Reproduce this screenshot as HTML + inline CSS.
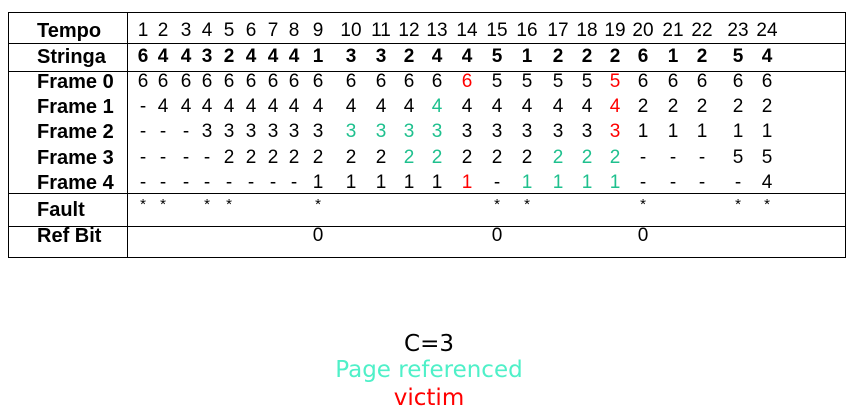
<!DOCTYPE html>
<html><head><meta charset="utf-8"><style>
body{margin:0;width:858px;height:420px;background:#fff;position:relative;overflow:hidden;font-family:"Liberation Sans",Arial,sans-serif}
.t{position:absolute;font-size:19px;line-height:22px;transform:translate(-50%,-50%);white-space:nowrap;color:#000}
.l{position:absolute;left:37px;font-size:20px;font-weight:bold;line-height:22px;transform:translateY(-50%);white-space:nowrap}
.h{position:absolute;left:8px;width:838px;height:1px;background:#000}
.g{color:#1fc08e}.r{color:#f00}
.b{position:absolute;left:0;width:858px;text-align:center;font-family:"DejaVu Sans",sans-serif;font-size:23px;line-height:27px}
</style></head><body>
<div style="position:absolute;left:8px;top:12px;width:836px;height:244px;border:1px solid #000"></div>
<div style="position:absolute;left:127px;top:12px;width:1px;height:245px;background:#000"></div>
<div class="h" style="top:43px"></div>
<div class="h" style="top:71px"></div>
<div class="h" style="top:193px"></div>
<div class="h" style="top:226px"></div>
<div id="tbl"></div>
<div class="b" style="top:331px">C=3</div>
<div class="b" style="top:357px;color:#4ff0c8">Page referenced</div>
<div class="b" style="top:385px;color:#f00">victim</div>
<script>
const colX=[143,163,186,207,229,251,273,294,318,351,381,409,437,467,497,527,558,587,615,643,673,702,738,767];
const stringa=['6','4','4','3','2','4','4','4','1','3','3','2','4','4','5','1','2','2','2','6','1','2','5','4'];
const frame0=['6','6','6','6','6','6','6','6','6','6','6','6','6','6r','5','5','5','5','5r','6','6','6','6','6'];
const frame1=['-','4','4','4','4','4','4','4','4','4','4','4','4g','4','4','4','4','4','4r','2','2','2','2','2'];
const frame2=['-','-','-','3','3','3','3','3','3','3g','3g','3g','3g','3','3','3','3','3','3r','1','1','1','1','1'];
const frame3=['-','-','-','-','2','2','2','2','2','2','2','2g','2g','2','2','2','2g','2g','2g','-','-','-','5','5'];
const frame4=['-','-','-','-','-','-','-','-','1','1','1','1','1','1r','-','1g','1g','1g','1g','-','-','-','-','4'];
const fault=[1,1,0,1,1,0,0,0,1,0,0,0,0,0,1,1,0,0,0,1,0,0,1,1];
const refbit=['','','','','','','','','0','','','','','','0','','','','','0','','','',''];
const rows=[
 {label:'Tempo',y:31,vals:colX.map((_,i)=>String(i+1)),bold:false},
 {label:'Stringa',y:57,vals:stringa,bold:true},
 {label:'Frame 0',y:82,vals:frame0},
 {label:'Frame 1',y:107,vals:frame1},
 {label:'Frame 2',y:132,vals:frame2},
 {label:'Frame 3',y:158,vals:frame3},
 {label:'Frame 4',y:183,vals:frame4},
 {label:'Fault',y:210,vals:fault.map(f=>f?'*':''),star:true},
 {label:'Ref Bit',y:236,vals:refbit}
];
const tbl=document.getElementById('tbl');
rows.forEach(r=>{
 const L=document.createElement('div');L.className='l';L.style.top=r.y+'px';L.textContent=r.label;
 
 
 tbl.appendChild(L);
 r.vals.forEach((v,i)=>{
  if(!v)return;
  const d=document.createElement('div');d.className='t';
  const last=v[v.length-1];
  if(last==='g'||last==='r'){d.classList.add(last);v=v.slice(0,-1);}
  d.textContent=v;d.style.left=colX[i]+'px';
  d.style.top=(r.star?r.y-5:r.y)+'px';
  if(r.bold)d.style.fontWeight='bold';
  if(r.star)d.style.fontSize='15px';
  
  
  tbl.appendChild(d);
 });
});
</script>
</body></html>
